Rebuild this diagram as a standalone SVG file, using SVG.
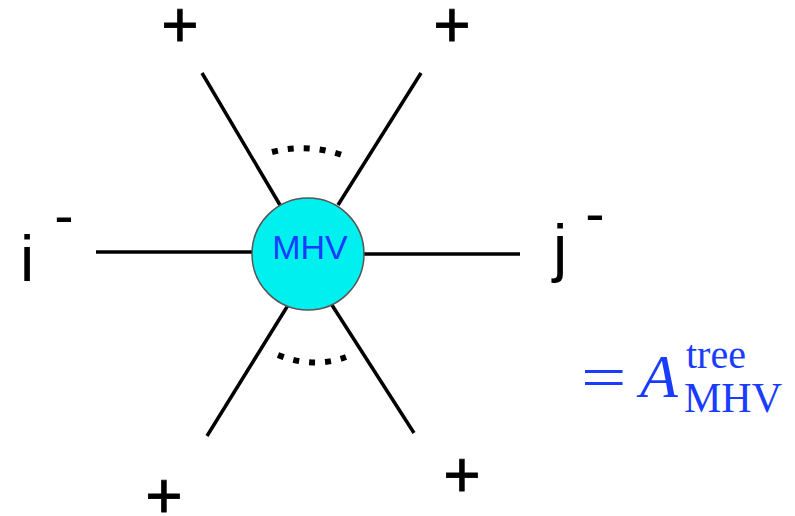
<svg xmlns="http://www.w3.org/2000/svg" width="795" height="516" viewBox="0 0 795 516">
<style>
.leg{stroke:#000;stroke-width:3.5;fill:none;stroke-linecap:butt}
.dots{stroke:#000;stroke-width:6;fill:none;stroke-dasharray:6 10}
.lbl{font-family:"Liberation Sans",Arial,sans-serif;font-size:64px;fill:#000}
.sign{font-family:"Liberation Sans",Arial,sans-serif;font-size:64px;fill:#000;stroke:#000;stroke-width:0.8}
.minus{font-family:"Liberation Sans",Arial,sans-serif;font-size:58px;fill:#000}
.math{font-family:"Liberation Serif","Times New Roman",serif;fill:#1a3cff}
</style>
<rect width="795" height="516" fill="#fff"/>
<g id="connectors">
<line class="leg" x1="96" y1="252" x2="253" y2="252"/>
<line class="leg" x1="363" y1="254" x2="520" y2="254"/>
<line class="leg" x1="202" y1="73" x2="280" y2="205"/>
<line class="leg" x1="421" y1="73" x2="338" y2="205"/>
<line class="leg" x1="290" y1="302" x2="207" y2="436"/>
<line class="leg" x1="330" y1="302" x2="414" y2="433"/>
<path class="dots" d="M272 152 Q307 143 342 155"/>
<path class="dots" d="M278 355 Q313 369 346 357"/>
</g>
<g id="mhv">
<circle cx="308" cy="254" r="56" fill="#00f0f0" stroke="#555" stroke-width="1.5"/>
<text x="310" y="259" text-anchor="middle" font-family="'Liberation Sans',Arial,sans-serif" font-size="34" fill="#1a3cff">MHV</text>
</g>
<g id="labels">
<text class="sign" x="180" y="47" text-anchor="middle">+</text>
<text class="sign" x="452" y="47" text-anchor="middle">+</text>
<text class="sign" x="164" y="518" text-anchor="middle">+</text>
<text class="sign" x="462" y="497" text-anchor="middle">+</text>
<text class="lbl" x="20" y="281">i</text>
<text class="minus" x="64" y="235" text-anchor="middle">-</text>
<text class="lbl" x="553" y="270">j</text>
<text class="minus" x="595" y="233" text-anchor="middle">-</text>
</g>
<g id="formula">
<text class="math" transform="translate(581,398) scale(1.3,1)" font-size="62">=</text>
<text class="math" x="640" y="397" font-size="62" font-style="italic">A</text>
<text class="math" x="686" y="368" font-size="40">tree</text>
<text class="math" x="684" y="412" font-size="42">MHV</text>
</g>
</svg>
